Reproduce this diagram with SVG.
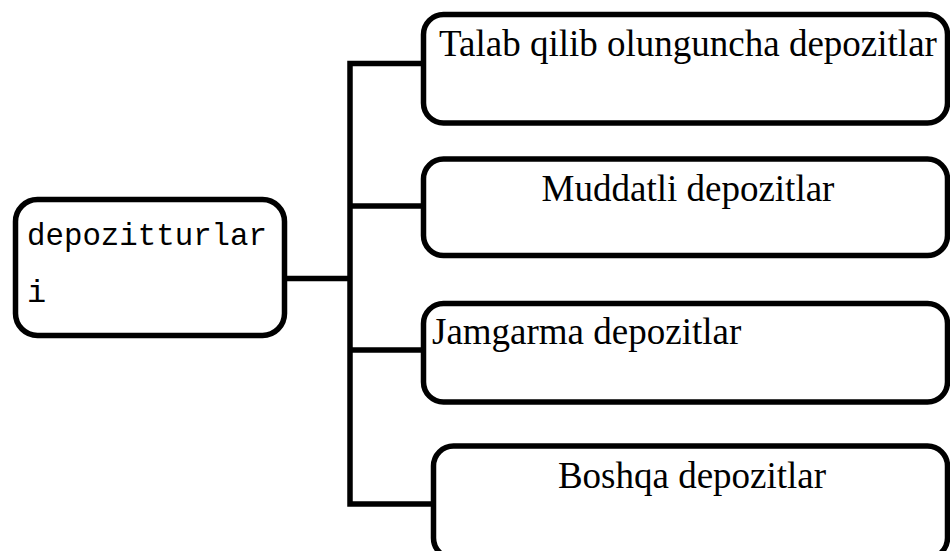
<svg xmlns="http://www.w3.org/2000/svg" width="950" height="551" viewBox="0 0 950 551">
  <style>
    .box { fill: #ffffff; stroke: #000000; stroke-width: 5.5; }
    .wire { fill: none; stroke: #000000; stroke-width: 5.5; stroke-linejoin: miter; stroke-linecap: butt; }
    .label { font-family: "Liberation Serif", "Times New Roman", serif; font-size: 37px; fill: #000000; }
    .mono { font-family: "Liberation Mono", "Courier New", monospace; font-size: 32px; fill: #000000; }
  </style>
  <rect width="950" height="551" fill="#ffffff"/>

  <!-- connectors: trunk from the root box and branches to each deposit type -->
  <g id="connectors">
    <path class="wire" d="M287,278.5 H350"/>
    <path class="wire" d="M423.5,63.5 H350 V504 H433.5"/>
    <path class="wire" d="M350,206 H423.5"/>
    <path class="wire" d="M350,350 H423.5"/>
  </g>

  <g id="root">
    <rect class="box" x="15.5" y="199.5" width="269" height="136" rx="22" ry="22"/>
    <text class="mono" x="27" y="245" textLength="240" lengthAdjust="spacingAndGlyphs">depozitturlar</text>
    <text class="mono" x="27" y="302">i</text>
  </g>

  <g id="demand">
    <rect class="box" x="423.5" y="14.5" width="524" height="108.5" rx="20" ry="20"/>
    <text class="label" x="688" y="56" text-anchor="middle">Talab qilib olunguncha depozitlar</text>
  </g>

  <g id="term">
    <rect class="box" x="423.5" y="159" width="524" height="96.5" rx="20" ry="20"/>
    <text class="label" x="688" y="201" text-anchor="middle">Muddatli depozitlar</text>
  </g>

  <g id="savings">
    <rect class="box" x="423.5" y="303.5" width="524" height="98.5" rx="20" ry="20"/>
    <text class="label" x="432" y="344">Jamgarma depozitlar</text>
  </g>

  <g id="other">
    <rect class="box" x="433.5" y="446" width="514" height="112" rx="20" ry="20"/>
    <text class="label" x="692" y="488" text-anchor="middle">Boshqa depozitlar</text>
  </g>
</svg>
